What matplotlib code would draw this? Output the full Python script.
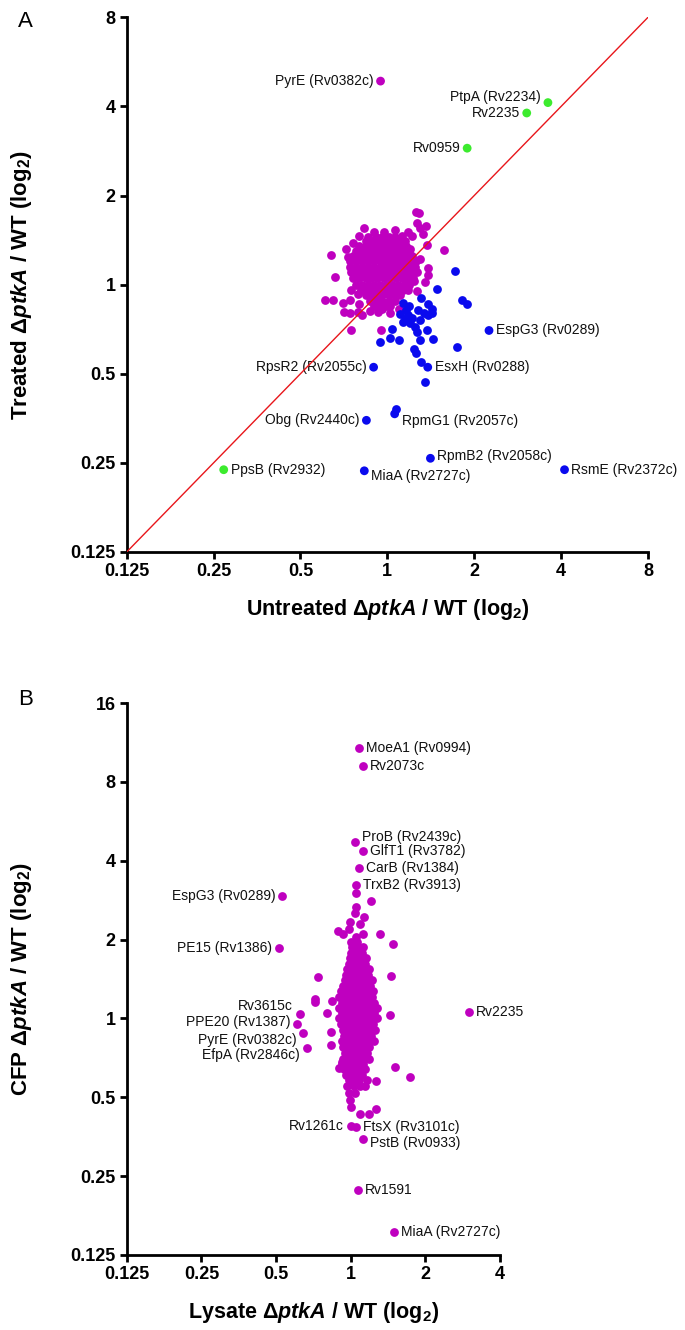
import numpy as np
import matplotlib
matplotlib.use("Agg")
import matplotlib.pyplot as plt

plt.rcParams['font.family'] = ['Liberation Sans', 'DejaVu Sans']
plt.rcParams['mathtext.fontset'] = 'custom'
plt.rcParams['mathtext.rm'] = 'Liberation Sans:bold'
plt.rcParams['mathtext.it'] = 'Liberation Sans:italic:bold'
plt.rcParams['mathtext.bf'] = 'Liberation Sans:bold'

MAGENTA = '#BF00BF'
BLUE = '#0A0AEE'
GREEN = '#3CEB2E'

# ---------------- panel A data (untreated vs treated ratios) ----------------
# dense core of unchanged proteins, row by row: y -> x values
a_core_rows = {
    1.45: [0.86, 0.91, 0.96, 1.01, 1.06],
    1.40: [0.84, 0.88, 0.92, 0.97, 1.01, 1.06, 1.11],
    1.35: [0.80, 0.84, 0.88, 0.92, 0.97, 1.02, 1.07, 1.12, 1.16],
    1.30: [0.78, 0.82, 0.86, 0.90, 0.94, 0.99, 1.04, 1.09, 1.14, 1.19],
    1.25: [0.76, 0.80, 0.84, 0.88, 0.92, 0.97, 1.01, 1.06, 1.11, 1.16, 1.22],
    1.20: [0.74, 0.78, 0.82, 0.86, 0.90, 0.95, 1.00, 1.05, 1.10, 1.15, 1.20, 1.26],
    1.15: [0.74, 0.78, 0.82, 0.86, 0.90, 0.94, 0.99, 1.04, 1.09, 1.14, 1.19, 1.25],
    1.10: [0.75, 0.79, 0.83, 0.87, 0.91, 0.96, 1.01, 1.06, 1.11, 1.16, 1.22, 1.27],
    1.05: [0.76, 0.80, 0.84, 0.88, 0.92, 0.97, 1.02, 1.07, 1.12, 1.17, 1.23],
    1.00: [0.78, 0.82, 0.86, 0.90, 0.94, 0.99, 1.04, 1.09, 1.14, 1.19],
    0.96: [0.81, 0.85, 0.89, 0.93, 0.98, 1.03, 1.08, 1.13, 1.18],
    0.92: [0.84, 0.88, 0.92, 0.96, 1.01, 1.06, 1.11],
    0.88: [0.87, 0.91, 0.96, 1.01, 1.06],
    0.85: [0.90, 0.95, 1.00],
}
a_magenta_outer = [
    (1.26, 1.76), (1.29, 1.75), (1.27, 1.62), (1.36, 1.58), (1.30, 1.55),
    (0.83, 1.55), (1.06, 1.53), (0.97, 1.51), (0.90, 1.50), (0.80, 1.46),
    (1.22, 1.46), (1.33, 1.48), (1.18, 1.50), (1.12, 1.46), (1.37, 1.36),
    (1.57, 1.31), (0.72, 1.32), (0.64, 1.26), (0.73, 1.24), (1.30, 1.22),
    (1.38, 1.14), (0.66, 1.06), (1.38, 1.08), (1.35, 1.02), (1.27, 0.95),
    (0.75, 0.96), (0.61, 0.89), (0.65, 0.89), (0.70, 0.87), (0.74, 0.89),
    (0.80, 0.86), (0.71, 0.81), (0.79, 0.81), (0.93, 0.81), (1.02, 0.85),
    (1.10, 0.83), (0.74, 0.805), (0.82, 0.79), (0.87, 0.815), (0.96, 0.825),
    (1.02, 0.805), (0.75, 0.70), (0.95, 0.70), (1.15, 1.40), (1.20, 1.32),
    (0.76, 1.38), (1.24, 1.03), (0.79, 0.93),
]
a_blue = [
    (1.71, 1.11), (1.48, 0.97), (1.81, 0.89), (1.89, 0.86), (1.31, 0.90),
    (1.19, 0.85), (1.38, 0.86), (1.43, 0.83), (1.16, 0.82), (1.28, 0.82),
    (1.13, 0.87), (1.11, 0.795), (1.15, 0.765), (1.22, 0.77), (1.30, 0.76),
    (1.38, 0.79), (1.43, 0.80), (1.34, 0.80), (1.13, 0.75), (1.20, 0.74),
    (1.25, 0.72), (1.18, 0.79), (1.04, 0.71), (1.27, 0.69), (1.37, 0.70),
    (0.94, 0.64), (1.02, 0.66), (1.10, 0.65), (1.30, 0.65), (1.44, 0.655),
    (1.74, 0.614), (1.24, 0.606), (1.26, 0.588), (1.31, 0.547), (1.35, 0.47),
    (1.07, 0.381),
]
a_names = ['PyrE (Rv0382c)', 'PtpA (Rv2234)', 'Rv2235', 'Rv0959',
           'EspG3 (Rv0289)', 'RpsR2 (Rv2055c)', 'EsxH (Rv0288)', 'Obg (Rv2440c)',
           'RpmG1 (Rv2057c)', 'RpmB2 (Rv2058c)', 'MiaA (Rv2727c)',
           'RsmE (Rv2372c)', 'PpsB (Rv2932)']
a_x = [0.947, 3.60, 3.04, 1.89, 2.25, 0.896, 1.38, 0.846, 1.06, 1.41, 0.832, 4.11, 0.271]
a_y = [4.87, 4.12, 3.80, 2.89, 0.70, 0.526, 0.526, 0.348, 0.366, 0.259, 0.235, 0.237, 0.237]
a_group = ['m', 'g', 'g', 'g', 'b', 'b', 'b', 'b', 'b', 'b', 'b', 'b', 'g']

# label placement (side of the point, vertical shift in points)
a_side = ['l', 'l', 'l', 'l', 'r', 'l', 'r', 'l', 'r', 'r', 'r', 'r', 'r']
a_dy = [0, 4, 0, 0, 0, 0, 0, 0, -5, 2, -4, 0, 0]

# ---------------- panel B data (lysate vs CFP ratios) ----------------
b_core_rows = {
    0.52: [0.98, 1.04],
    0.55: [0.97, 1.03, 1.09, 1.14],
    0.58: [0.98, 1.03, 1.08, 1.16],
    0.61: [0.96, 1.01, 1.06, 1.11],
    0.64: [0.94, 0.99, 1.04, 1.09, 1.14],
    0.67: [0.92, 0.97, 1.02, 1.07, 1.12],
    0.70: [0.93, 0.98, 1.03, 1.08, 1.13, 1.18],
    0.74: [0.95, 1.00, 1.05, 1.10, 1.16],
    0.78: [0.93, 0.98, 1.03, 1.08, 1.13, 1.19],
    0.82: [0.92, 0.97, 1.02, 1.07, 1.12, 1.18, 1.24],
    0.86: [0.94, 0.99, 1.04, 1.09, 1.15, 1.21],
    0.90: [0.93, 0.98, 1.03, 1.08, 1.13, 1.19, 1.25],
    0.95: [0.91, 0.96, 1.01, 1.06, 1.11, 1.17, 1.23],
    1.00: [0.90, 0.95, 1.00, 1.05, 1.10, 1.16, 1.22, 1.28],
    1.05: [0.92, 0.97, 1.02, 1.07, 1.12, 1.18, 1.24],
    1.10: [0.90, 0.95, 1.00, 1.05, 1.10, 1.16, 1.22, 1.28],
    1.15: [0.92, 0.97, 1.02, 1.07, 1.12, 1.18, 1.24],
    1.21: [0.90, 0.95, 1.00, 1.05, 1.10, 1.16, 1.22],
    1.27: [0.91, 0.96, 1.01, 1.06, 1.11, 1.17, 1.23],
    1.33: [0.93, 0.98, 1.03, 1.08, 1.14, 1.20],
    1.40: [0.95, 1.00, 1.05, 1.10, 1.16, 1.22],
    1.47: [0.96, 1.01, 1.06, 1.11, 1.17],
    1.54: [0.97, 1.02, 1.07, 1.12, 1.18],
    1.62: [0.98, 1.03, 1.08, 1.14],
    1.70: [0.99, 1.04, 1.09, 1.15],
    1.78: [1.00, 1.05, 1.11],
    1.87: [1.01, 1.06, 1.12],
    1.96: [1.00, 1.06],
}
b_outer = [
    (0.886, 2.16), (0.93, 2.10), (0.98, 2.20), (1.05, 2.05), (1.12, 2.10),
    (1.31, 2.10), (1.48, 1.93), (0.99, 2.34), (1.04, 2.52), (1.13, 2.44),
    (1.09, 2.30), (1.05, 2.67), (1.05, 3.00), (1.21, 2.81), (1.46, 1.45),
    (0.74, 1.44), (0.72, 1.19), (0.72, 1.155), (0.84, 1.17), (0.80, 1.05),
    (0.83, 0.886), (0.83, 0.79), (0.92, 0.68), (0.90, 0.645), (1.44, 1.03),
    (1.51, 0.651), (1.73, 0.598), (1.27, 0.578), (1.26, 0.452), (1.18, 0.431),
    (1.09, 0.43), (1.00, 0.46), (0.99, 0.49),
]
b_names = ['MoeA1 (Rv0994)', 'Rv2073c', 'ProB (Rv2439c)', 'GlfT1 (Rv3782)',
           'CarB (Rv1384)', 'TrxB2 (Rv3913)', 'EspG3 (Rv0289)', 'PE15 (Rv1386)',
           'Rv2235', 'Rv3615c', 'PPE20 (Rv1387)', 'PyrE (Rv0382c)',
           'EfpA (Rv2846c)', 'Rv1261c', 'FtsX (Rv3101c)', 'PstB (Rv0933)',
           'Rv1591', 'MiaA (Rv2727c)']
b_x = [1.08, 1.12, 1.04, 1.12, 1.08, 1.05, 0.530, 0.512, 3.0, 0.624, 0.610,
       0.644, 0.664, 1.00, 1.05, 1.12, 1.07, 1.50]
b_y = [10.8, 9.2, 4.71, 4.36, 3.74, 3.23, 2.93, 1.86, 1.06, 1.04, 0.949,
       0.882, 0.772, 0.390, 0.384, 0.348, 0.221, 0.153]
b_side = ['r', 'r', 'r', 'r', 'r', 'r', 'l', 'l', 'r', 'l', 'l', 'l', 'l',
          'l', 'r', 'r', 'r', 'r']
b_dy = [0, 0, 4, 0, 0, 0, 0, 0, 0, 6, 2, -5, -5, 0, 0, -3, 0, 0]

a_ticks = [0.125, 0.25, 0.5, 1, 2, 4, 8]
a_ticklabels = ['0.125', '0.25', '0.5', '1', '2', '4', '8']
b_xticks = [0.125, 0.25, 0.5, 1, 2, 4]
b_xticklabels = ['0.125', '0.25', '0.5', '1', '2', '4']
b_yticks = [0.125, 0.25, 0.5, 1, 2, 4, 8, 16]
b_yticklabels = ['0.125', '0.25', '0.5', '1', '2', '4', '8', '16']

colors = {'m': MAGENTA, 'b': BLUE, 'g': GREEN}
S = 40


def rows_to_xy(rows):
    xs, ys = [], []
    for y, row in rows.items():
        xs += row
        ys += [y] * len(row)
    return np.array(xs), np.array(ys)


def style_axes(ax, xticks, xlabels, yticks, ylabels, xlim, ylim):
    ax.set_xscale('log', base=2)
    ax.set_yscale('log', base=2)
    ax.set_xlim(*xlim)
    ax.set_ylim(*ylim)
    ax.set_xticks(xticks)
    ax.set_xticklabels(xlabels)
    ax.set_yticks(yticks)
    ax.set_yticklabels(ylabels)
    ax.minorticks_off()
    for s in ['top', 'right']:
        ax.spines[s].set_visible(False)
    for s in ['left', 'bottom']:
        ax.spines[s].set_linewidth(2)
    ax.tick_params(length=5, width=2, labelsize=13, pad=3)
    for lab in ax.get_xticklabels() + ax.get_yticklabels():
        lab.set_fontweight('bold')


def add_labels(ax, names, xs, ys, sides, dys):
    for n, x, y, sd, dy in zip(names, xs, ys, sides, dys):
        dx = -5 if sd == 'l' else 5
        ax.annotate(n, (x, y), xytext=(dx, dy), textcoords='offset points',
                    ha='right' if sd == 'l' else 'left', va='center',
                    fontsize=10, color='#111111')


fig = plt.figure(figsize=(6.85, 13.3), dpi=100)

# ---------- panel A ----------
axA = fig.add_axes([0.185, 0.585, 0.761, 0.402])
cx, cy = rows_to_xy(a_core_rows)
axA.scatter(cx, cy, s=S, color=MAGENTA, linewidths=0, zorder=2)
mo = np.array(a_magenta_outer)
axA.scatter(mo[:, 0], mo[:, 1], s=S, color=MAGENTA, linewidths=0, zorder=2)
bl = np.array(a_blue)
axA.scatter(bl[:, 0], bl[:, 1], s=S, color=BLUE, linewidths=0, zorder=3)
axA.scatter(a_x, a_y, s=S, c=[colors[g] for g in a_group], linewidths=0, zorder=3)
axA.plot([0.125, 8], [0.125, 8], color='#E8161B', lw=1, zorder=4)
style_axes(axA, a_ticks, a_ticklabels, a_ticks, a_ticklabels, (0.125, 8), (0.125, 8))
add_labels(axA, a_names, a_x, a_y, a_side, a_dy)
axA.set_xlabel(r'Untreated $\Delta\mathit{ptkA}$ / WT (log$_{2}$)',
               fontsize=15.5, fontweight='bold', labelpad=12)
axA.set_ylabel(r'Treated $\Delta\mathit{ptkA}$ / WT (log$_{2}$)',
               fontsize=16, fontweight='bold', labelpad=26)

# ---------- panel B ----------
axB = fig.add_axes([0.185, 0.0564, 0.545, 0.415])
cx, cy = rows_to_xy(b_core_rows)
axB.scatter(cx, cy, s=S, color=MAGENTA, linewidths=0, zorder=2)
bo = np.array(b_outer)
axB.scatter(bo[:, 0], bo[:, 1], s=S, color=MAGENTA, linewidths=0, zorder=2)
axB.scatter(b_x, b_y, s=S, color=MAGENTA, linewidths=0, zorder=3)
style_axes(axB, b_xticks, b_xticklabels, b_yticks, b_yticklabels, (0.125, 4), (0.125, 16))
add_labels(axB, b_names, b_x, b_y, b_side, b_dy)
axB.set_xlabel(r'Lysate $\Delta\mathit{ptkA}$ / WT (log$_{2}$)',
               fontsize=15.5, fontweight='bold', labelpad=12)
axB.set_ylabel(r'CFP $\Delta\mathit{ptkA}$ / WT (log$_{2}$)',
               fontsize=16, fontweight='bold', labelpad=26)

fig.text(0.026, 0.992, 'A', fontsize=16, va='top', ha='left')
fig.text(0.026, 0.482, 'B', fontsize=16, va='top', ha='left')

fig.savefig('out.png', dpi=100)
